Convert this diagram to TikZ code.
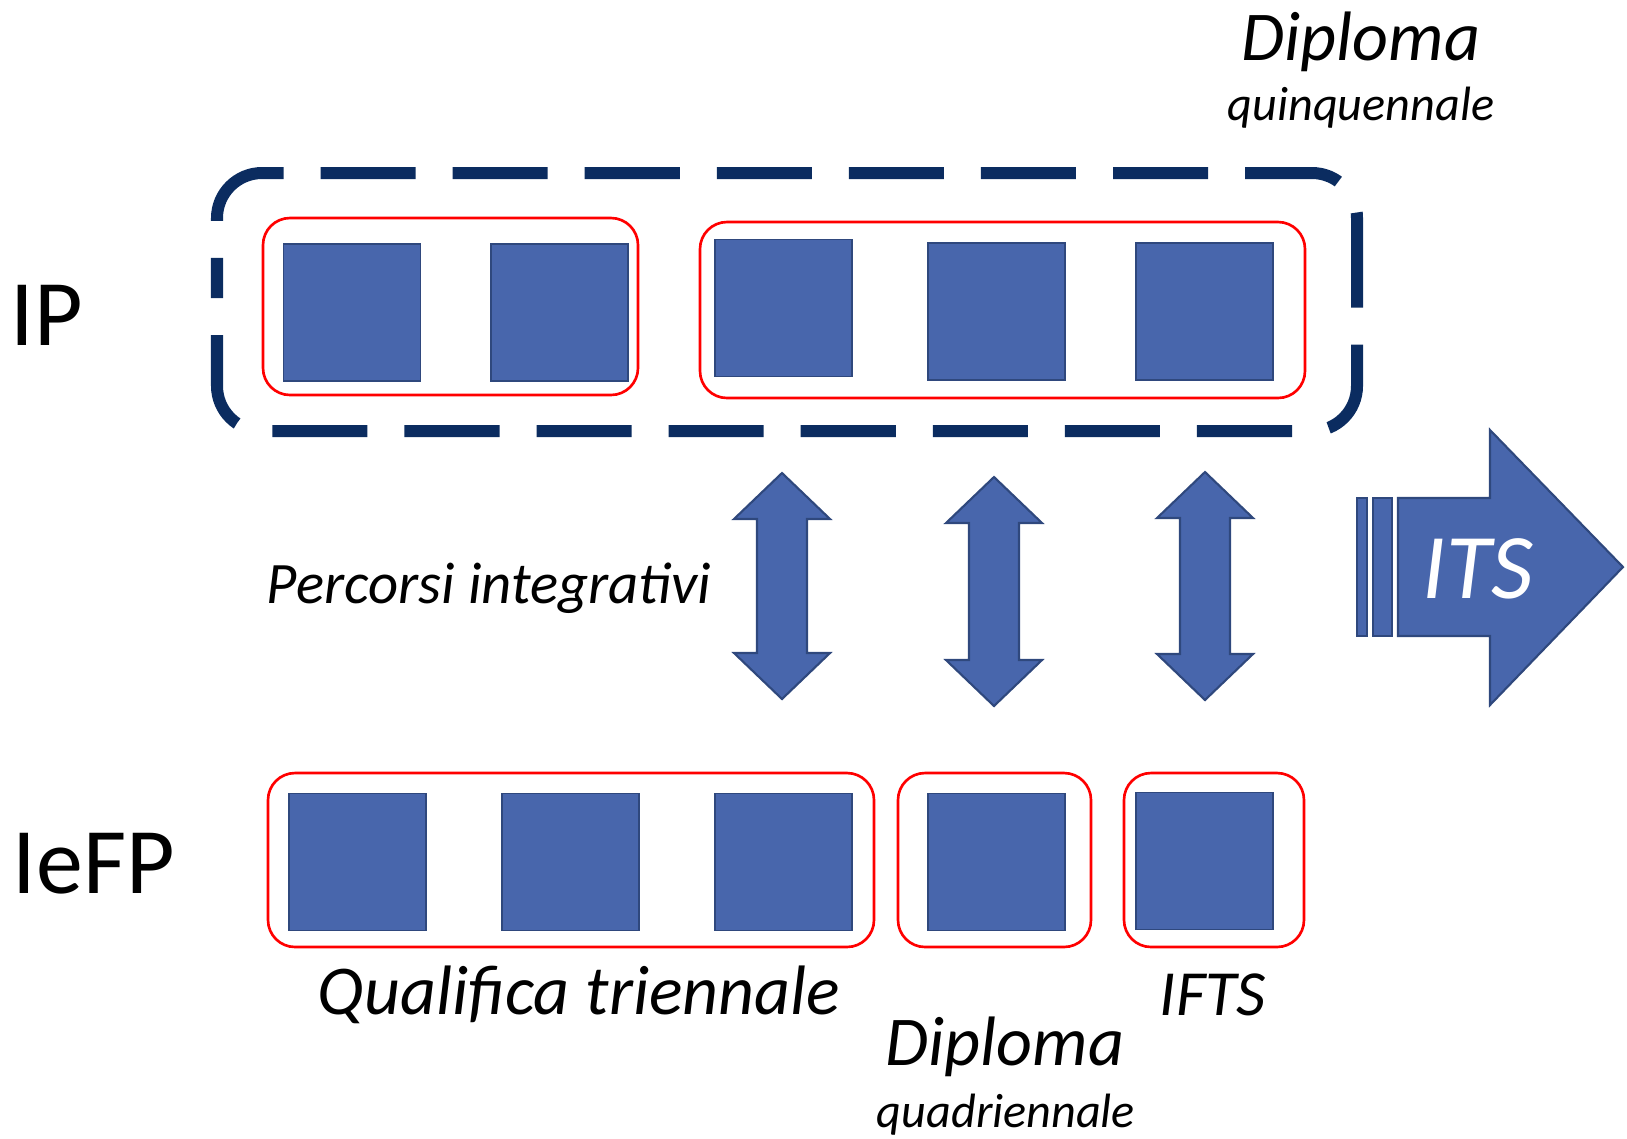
\documentclass[tikz,border=0pt]{standalone}
\usepackage{fontspec}
\setmainfont{Carlito}
\usepackage{tikz}

\definecolor{boxblue}{RGB}{72,102,172}
\definecolor{edgeblue}{RGB}{47,72,125}
\definecolor{ipnavy}{RGB}{11,44,96}

% double arrow: centre x, top tip, bottom tip
\newcommand{\updown}[3]{%
	\draw[blk] (#1,#2) -- ++(48,46) -- ++(-23,0) -- (#1+25,#3-46) -- ++(23,0) -- (#1,#3)
		-- ++(-48,-46) -- ++(23,0) -- (#1-25,#2+46) -- ++(-23,0) -- cycle;}

\begin{document}
\begin{tikzpicture}[x=0.01cm, y=-0.01cm, every node/.style={inner sep=0pt},
	sq/.style={draw=edgeblue, fill=boxblue, line width=0.5pt, minimum size=1.37cm},
	grp/.style={draw=red, line width=0.75pt, rounded corners=0.27cm},
	blk/.style={draw=edgeblue, fill=boxblue, line width=0.6pt},
	big/.style={font=\fontsize{19.9}{24}\selectfont\itshape},
	mid/.style={font=\fontsize{16.7}{20}\selectfont\itshape},
	small/.style={font=\fontsize{13.7}{16}\selectfont\itshape},
	side/.style={font=\fontsize{26.7}{32}\selectfont}]
	\useasboundingbox (0,0) rectangle (1627,1138);
	% IP
	\draw[ipnavy, line width=0.12cm, dash pattern=on 0.95cm off 0.37cm, rounded corners=0.45cm]
		(217,335) -- (217,431) -- (1357,431) -- (1357,173) -- (217,173) -- (217,298);
	\draw[grp] (263,218) rectangle (638,395);
	\draw[grp] (700,222) rectangle (1305,398);
	\foreach \n/\x/\y in {1/352/312.5, 2/559.5/312.5, 3/783.5/308, 4/996.5/311.5, 5/1204.5/311.5}
		\node[sq] (t\n) at (\x,\y) {};
	% IeFP
	\draw[grp] (268,773) rectangle (874,947);
	\draw[grp] (898,773) rectangle (1091,947);
	\draw[grp] (1124,773) rectangle (1304,947);
	\foreach \n/\x/\y in {1/357.5/862, 2/570.5/862, 3/783.5/862, 4/996.5/862, 5/1204.5/861}
		\node[sq] (b\n) at (\x,\y) {};
	% passaggi
	\updown{782}{473}{699}
	\updown{994}{477}{706}
	\updown{1205}{472}{700}
	% ITS
	\draw[blk] (1357,498) rectangle (1367,636);
	\draw[blk] (1373,498) rectangle (1392,636);
	\draw[blk] (1398,498) -- (1490,498) -- (1490,430) -- (1623,567) -- (1490,705) -- (1490,636) -- (1398,636) -- cycle;
	\node[anchor=base, text=white, font=\fontsize{26.3}{31}\selectfont\itshape] (its) at (1478,598) {ITS};
	% labels
	\node[big, anchor=base] (dip5) at (1361,60) {Diploma};
	\node[small, anchor=base] (dip5s) at (1361,120) {quinquennale};
	\node[side, anchor=base west] (ip) at (10,345) {IP};
	\node[side, anchor=base west] (iefp) at (12,893) {IeFP};
	\node[mid, anchor=base] (perc) at (489,603) {Percorsi integrativi};
	\node[big, anchor=base] (qual) at (579,1014) {Qualifica triennale};
	\node[font=\fontsize{18.3}{22}\selectfont\itshape, anchor=base] (ifts) at (1213,1015) {IFTS};
	\node[big, anchor=base] (dip4) at (1005,1065) {Diploma};
	\node[small, anchor=base] (dip4s) at (1006,1127) {quadriennale};
\end{tikzpicture}
\end{document}
